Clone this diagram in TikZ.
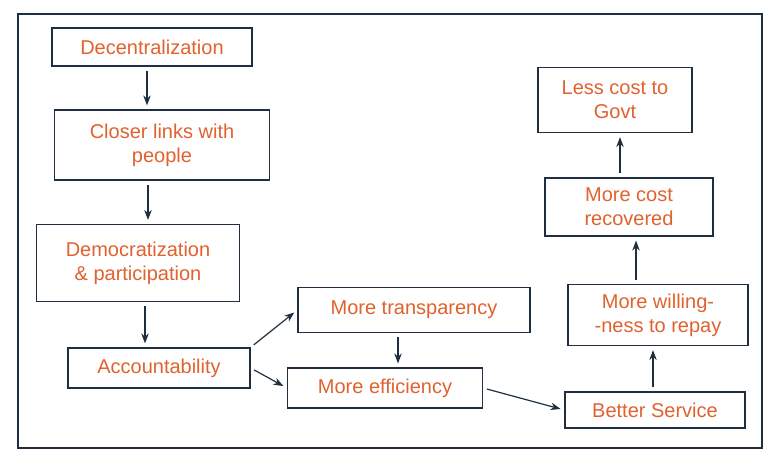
\documentclass[tikz,border=0pt]{standalone}
\usepackage{fontspec}
\setmainfont{Liberation Sans}
\usetikzlibrary{arrows.meta}
\definecolor{ink}{HTML}{1F2F3F}
\definecolor{hand}{HTML}{E0622F}
\tikzset{
	stepbox/.style={draw=ink, very thick, text=hand, align=center, font=\fontsize{20}{24}\selectfont, inner sep=2pt},
	link/.style={-{Stealth[length=10pt]}, ink, very thick, shorten <=4pt, shorten >=4pt}
}
\begin{document}
\begin{tikzpicture}[x=1pt,y=-1pt]
		% frame
		\fill[white] (0,0) rectangle (775,464);
		\draw[ink, very thick] (18,14) rectangle (762,448);
		
		% left column
		\node[stepbox, minimum width=200, minimum height=38] (dec) at (152,47) {Decentralization};
		\node[stepbox, minimum width=215, minimum height=70] (links) at (162,145) {Closer links with\\people};
		\node[stepbox, minimum width=203, minimum height=77] (demo) at (138,263) {Democratization\\\& participation};
		\node[stepbox, minimum width=182, minimum height=40] (acc) at (159,368) {Accountability};
		
		% middle
		\node[stepbox, minimum width=232, minimum height=45] (transp) at (414,310) {More transparency};
		\node[stepbox, minimum width=195, minimum height=40] (eff) at (385,388) {More efficiency};
		
		% right column
		\node[stepbox, minimum width=180, minimum height=36] (serv) at (655,410) {Better Service};
		\node[stepbox, minimum width=180, minimum height=61] (repay) at (658,315) {More willing-\\-ness to repay};
		\node[stepbox, minimum width=168, minimum height=58] (recov) at (629,207) {More cost\\recovered};
		\node[stepbox, minimum width=154, minimum height=65] (govt) at (615,100) {Less cost to\\Govt};
		
		% arrows
		\draw[link] (dec.south -| 147,0) -- (links.north -| 147,0);
		\draw[link] (links.south -| 148,0) -- (demo.north -| 148,0);
		\draw[link] (demo.south -| 145,0) -- (acc.north -| 145,0);
		\draw[link] (acc.north east) -- (transp.west);
		\draw[link] (acc.east) -- (eff.west);
		\draw[link] (transp.south -| 398,0) -- (eff.north -| 398,0);
		\draw[link] (eff.east) -- (serv.west);
		\draw[link] (serv.north -| 653,0) -- (repay.south -| 653,0);
		\draw[link] (repay.north -| 636,0) -- (recov.south -| 636,0);
		\draw[link] (recov.north -| 620,0) -- (govt.south -| 620,0);
		
	\end{tikzpicture}
\end{document}
